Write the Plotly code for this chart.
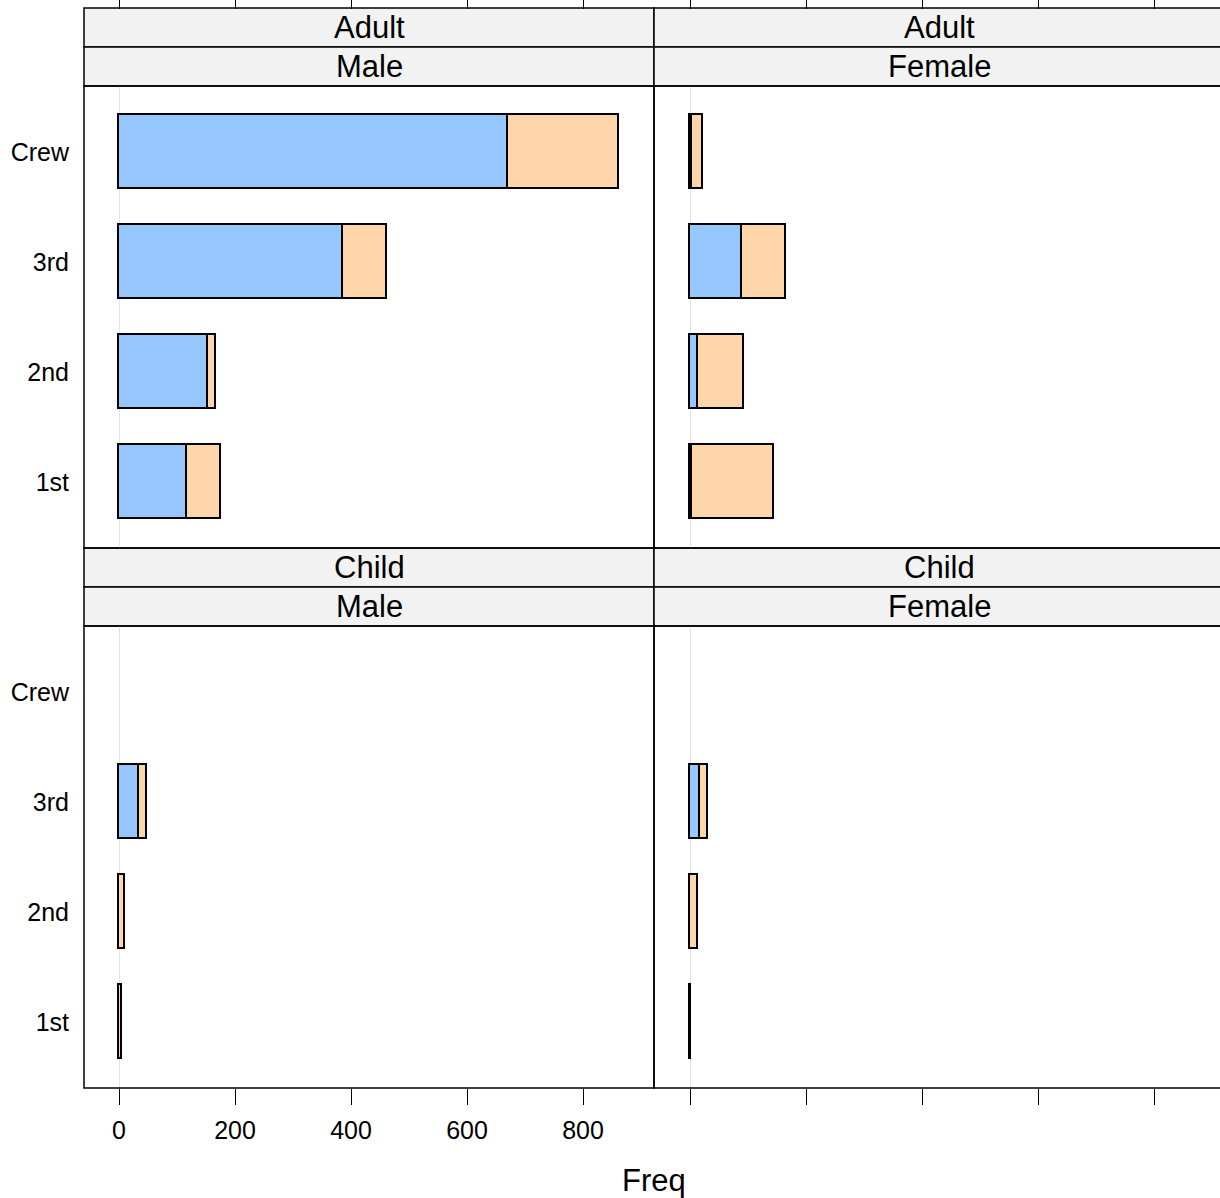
import plotly.graph_objects as go

# ---------------- data (Titanic counts) ----------------
classes = ["1st", "2nd", "3rd", "Crew"]
survived_levels = ["No", "Yes"]

adult_male_no = [118, 154, 387, 670]
adult_male_yes = [57, 14, 75, 192]
adult_female_no = [4, 13, 89, 3]
adult_female_yes = [140, 80, 76, 20]
child_male_no = [0, 0, 35, 0]
child_male_yes = [5, 11, 13, 0]
child_female_no = [0, 0, 17, 0]
child_female_yes = [1, 13, 14, 0]

x_ticks = [0, 200, 400, 600, 800]

# ---------------- layout geometry (pixels) ----------------
W, H = 1220, 1198
FONT = "Liberation Sans, Arial, Helvetica, sans-serif"
COL_NO = "#96C8FF"
COL_YES = "#FFD6AA"
STRIP_BG = "#F2F2F2"

def fx(p):
    return p / W

def fy(p):
    return 1 - p / H

PL0, PL1, PL2 = 84, 654, 1224          # panel column edges
UP_TOP, UP_BOT = 86, 548               # upper panel
LO_TOP, LO_BOT = 626, 1088             # lower panel
STRIP_H = 39
TOP_AXIS = 8.5
K = 0.58                               # px per unit
lo_l = -(119 - PL0) / K
hi_l = lo_l + (PL1 - PL0) / K
lo_r = -(690 - PL1) / K
hi_r = lo_r + (W - PL1) / K

fig = go.Figure()

panels = [
    ("x", "y", adult_male_no, adult_male_yes),
    ("x2", "y2", adult_female_no, adult_female_yes),
    ("x3", "y3", child_male_no, child_male_yes),
    ("x4", "y4", child_female_no, child_female_yes),
]

def nz(vals):
    return [v if v > 0 else None for v in vals]

for xa, ya, no_vals, yes_vals in panels:
    for name, vals, col in [("No", no_vals, COL_NO), ("Yes", yes_vals, COL_YES)]:
        fig.add_trace(go.Bar(
            x=nz(vals), y=classes, orientation="h", name=name,
            xaxis=xa, yaxis=ya, width=2 / 3,
            marker=dict(color=col, line=dict(color="black", width=1.6)),
            showlegend=False, hoverinfo="x+y+name",
        ))

common_x = dict(showgrid=False, zeroline=True, zerolinecolor="#E3E3E3",
                zerolinewidth=1.2, tickvals=x_ticks, ticks="outside", ticklen=16,
                tickwidth=1.4, tickcolor="black", showline=False, automargin=False,
                tickfont=dict(family=FONT, size=25, color="black"), fixedrange=True)
common_y = dict(showgrid=False, zeroline=False, type="category",
                categoryorder="array", categoryarray=classes, range=[-0.6, 3.6],
                ticks="", showline=False, fixedrange=True, automargin=False,
                tickfont=dict(family=FONT, size=25, color="black"))

fig.update_layout(
    width=W, height=H, autosize=False,
    margin=dict(l=0, r=0, t=0, b=0, autoexpand=False),
    paper_bgcolor="white", plot_bgcolor="white",
    barmode="stack", bargap=0,
    font=dict(family=FONT, color="black"),
    xaxis=dict(common_x, domain=[fx(PL0), fx(PL1)], range=[lo_l, hi_l],
               side="top", anchor="free", position=fy(TOP_AXIS), showticklabels=False),
    xaxis2=dict(common_x, domain=[fx(PL1), 1], range=[lo_r, hi_r],
                side="top", anchor="free", position=fy(TOP_AXIS), showticklabels=False),
    xaxis3=dict(common_x, domain=[fx(PL0), fx(PL1)], range=[lo_l, hi_l],
                side="bottom", anchor="y3", showticklabels=True, ticklabelstandoff=4),
    xaxis4=dict(common_x, domain=[fx(PL1), 1], range=[lo_r, hi_r],
                side="bottom", anchor="y4", showticklabels=False),
    yaxis=dict(common_y, domain=[fy(UP_BOT), fy(UP_TOP)], anchor="x",
               showticklabels=True, ticklabelstandoff=14),
    yaxis2=dict(common_y, domain=[fy(UP_BOT), fy(UP_TOP)], anchor="x2",
                showticklabels=False),
    yaxis3=dict(common_y, domain=[fy(LO_BOT), fy(LO_TOP)], anchor="x3",
                showticklabels=True, ticklabelstandoff=14),
    yaxis4=dict(common_y, domain=[fy(LO_BOT), fy(LO_TOP)], anchor="x4",
                showticklabels=False),
)

shapes = []
annotations = []
LINE = dict(color="black", width=1.5)

strip_rows = [
    (UP_TOP - 2 * STRIP_H, "Adult", "Adult"),
    (UP_TOP - STRIP_H, "Male", "Female"),
    (LO_TOP - 2 * STRIP_H, "Child", "Child"),
    (LO_TOP - STRIP_H, "Male", "Female"),
]
for top, left_lab, right_lab in strip_rows:
    for (c0, c1), lab in [((PL0, PL1), left_lab), ((PL1, PL2), right_lab)]:
        shapes.append(dict(type="rect", xref="paper", yref="paper",
                           x0=fx(c0), x1=fx(c1), y0=fy(top + STRIP_H), y1=fy(top),
                           fillcolor=STRIP_BG, line=LINE, layer="below"))
        annotations.append(dict(xref="paper", yref="paper", x=fx((c0 + c1) / 2),
                                y=fy(top + STRIP_H / 2), text=lab, showarrow=False,
                                xanchor="center", yanchor="middle",
                                font=dict(family=FONT, size=31, color="black")))

for t, b in [(UP_TOP, UP_BOT), (LO_TOP, LO_BOT)]:
    for c0, c1 in [(PL0, PL1), (PL1, PL2)]:
        shapes.append(dict(type="rect", xref="paper", yref="paper",
                           x0=fx(c0), x1=fx(c1), y0=fy(b), y1=fy(t),
                           fillcolor="rgba(0,0,0,0)", line=LINE, layer="above"))

annotations.append(dict(xref="paper", yref="paper", x=fx((PL0 + PL2) / 2), y=fy(1180),
                        text="Freq", showarrow=False, xanchor="center", yanchor="middle",
                        font=dict(family=FONT, size=31, color="black")))

fig.update_layout(shapes=shapes, annotations=annotations)

post = ("var gd=document.getElementById('{plot_id}');"
        "document.documentElement.style.margin='0';"
        "document.body.style.margin='0';document.body.style.padding='0';"
        "document.body.style.overflow='hidden';"
        "gd.style.position='absolute';gd.style.left='0px';gd.style.top='0px';")

fig.write_html("out.html", post_script=post, config={"displayModeBar": False})
